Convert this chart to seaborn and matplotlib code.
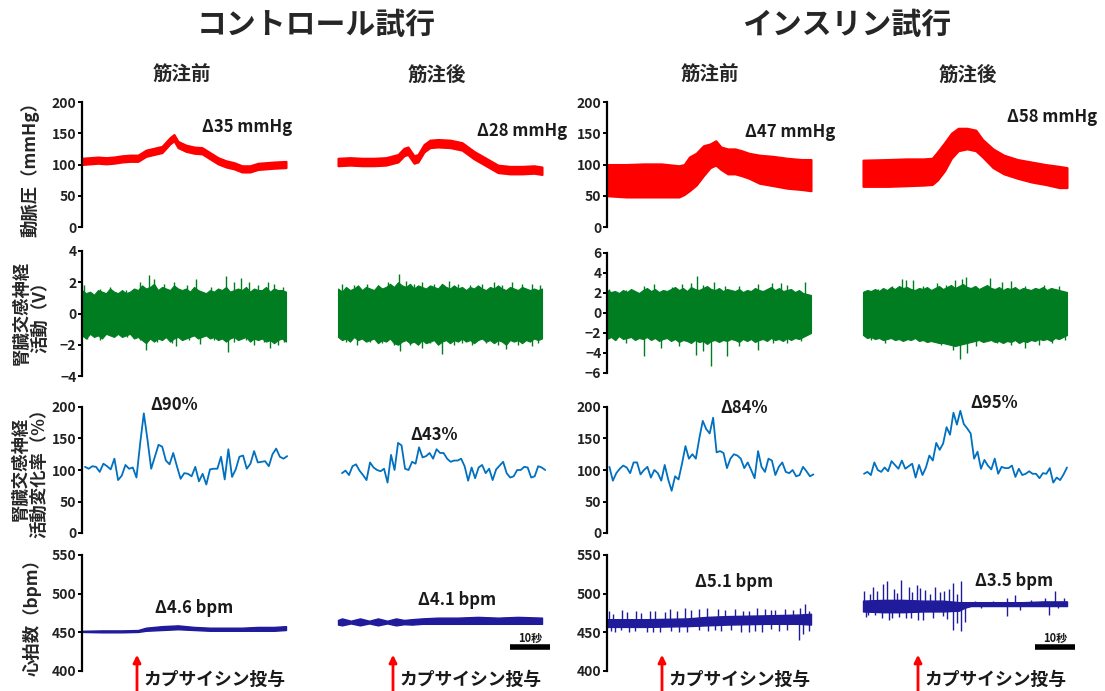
import numpy as np
import pandas as pd
import matplotlib
matplotlib.use("Agg")
import matplotlib.pyplot as plt
import seaborn as sns

# ---------------------------------------------------------------- text
GROUP_TITLES = ["コントロール試行", "インスリン試行"]
PHASE_TITLES = ["筋注前", "筋注後"]
ROW_LABELS = ["動脈圧（mmHg）", "腎臓交感神経\n活動（V）",
              "腎臓交感神経\n活動変化率（%）", "心拍数（bpm）"]
BP_DELTAS = ["Δ35 mmHg", "Δ28 mmHg", "Δ47 mmHg", "Δ58 mmHg"]
RSNA_DELTAS = ["Δ90%", "Δ43%", "Δ84%", "Δ95%"]
HR_DELTAS = ["Δ4.6 bpm", "Δ4.1 bpm", "Δ5.1 bpm", "Δ3.5 bpm"]
INJECTION_LABEL = "カプサイシン投与"
SCALE_LABEL = "10秒"

# ---------------------------------------------------------------- ticks
BP_TICKS = [0, 50, 100, 150, 200]
SNA_TICKS_CTRL = [-4, -2, 0, 2, 4]
SNA_TICKS_INS = [-6, -4, -2, 0, 2, 4, 6]
RSNA_TICKS = [0, 50, 100, 150, 200]
HR_TICKS = [400, 450, 500, 550]

TRACE_LEN = 51.0        # seconds per trace
INJECTION_T = 13.75     # s after trace start
SCALE_T = (107, 117)    # 10 s scale bar

# ---------------------------------------------------------------- arterial pressure (envelopes)
bp_ctrl_pre_t = [0, 2, 4, 6, 8, 10, 12, 14, 16, 18, 20, 22, 23, 24, 26, 28, 30, 32, 34, 36, 38, 40, 42, 44, 46, 48, 51]
bp_ctrl_pre_hi = [110, 111, 112, 111, 112, 114, 115, 115, 123, 126, 129, 143, 148, 137, 131, 128, 127, 119, 111, 106, 103, 98, 98, 102, 103, 104, 105]
bp_ctrl_pre_lo = [100, 101, 102, 101, 102, 104, 105, 105, 113, 116, 119, 133, 138, 127, 121, 118, 117, 109, 101, 96, 93, 88, 88, 92, 93, 94, 95]

bp_ctrl_post_t = [0, 3, 6, 9, 12, 15, 16.5, 17.5, 19, 20, 21.5, 23, 25, 28, 31, 34, 37, 40, 43, 46, 49, 51]
bp_ctrl_post_hi = [110, 111, 110, 110, 111, 116, 126, 128, 114, 116, 132, 139, 140, 139, 135, 121, 110, 99, 97, 97, 98, 96]
bp_ctrl_post_lo = [98, 99, 98, 98, 99, 104, 114, 116, 102, 104, 120, 127, 128, 127, 123, 109, 98, 87, 85, 85, 86, 84]

bp_ins_pre_t = [0, 4.8, 9.2, 13.6, 18, 19.3, 20.6, 22.3, 24.1, 25.8, 27.2, 28.5, 30.2, 32, 33.7, 35.5, 38.1, 41.6, 45.1, 48.6, 51]
bp_ins_pre_hi = [100, 100, 101, 101, 98, 100, 112, 118, 130, 133, 138, 128, 125, 125, 122, 118, 115, 113, 110, 108, 108]
bp_ins_pre_lo = [50, 48, 48, 48, 48, 52, 58, 67, 82, 95, 99, 92, 85, 85, 82, 78, 70, 66, 62, 60, 58]

bp_ins_post_t = [0, 6.4, 10.8, 15.1, 17.3, 18.6, 20.4, 22.1, 23.8, 26, 28.2, 29.9, 32.5, 35.2, 38.6, 42.1, 45.6, 49.1, 51]
bp_ins_post_hi = [107, 108, 109, 109, 110, 120, 135, 150, 158, 158, 155, 140, 125, 115, 108, 104, 100, 97, 95]
bp_ins_post_lo = [65, 65, 66, 67, 68, 75, 90, 110, 122, 125, 122, 112, 95, 85, 78, 72, 68, 63, 63]

# ---------------------------------------------------------------- renal SNA (envelope, 1 value / s, + large spikes)
sna_ctrl_pre_hi = [1.5, 1.3, 1.4, 1.2, 1.5, 1.4, 1.3, 1.6, 1.4, 1.3, 1.5, 1.3, 1.4, 1.6, 1.5, 1.8, 1.6, 1.7, 1.9, 1.5,
                   1.7, 1.6, 1.5, 1.8, 1.6, 1.5, 1.6, 1.4, 1.7, 1.5, 1.4, 1.3, 1.5, 1.4, 1.6, 1.5, 1.7, 1.4, 1.5, 1.6,
                   1.5, 1.7, 1.4, 1.6, 1.5, 1.5, 1.7, 1.4, 1.6, 1.5, 1.5, 1.4]
sna_ctrl_pre_lo = [-1.4, -1.6, -1.3, -1.5, -1.4, -1.6, -1.3, -1.4, -1.5, -1.3, -1.5, -1.4, -1.3, -1.6, -1.5, -1.7, -1.9, -1.6, -1.8, -1.6,
                   -1.7, -1.5, -1.8, -1.6, -1.5, -1.7, -1.6, -1.5, -1.4, -1.6, -1.5, -1.4, -1.6, -1.5, -1.7, -1.6, -1.8, -1.6, -1.5, -1.7,
                   -1.6, -1.5, -1.8, -1.6, -1.7, -1.6, -1.8, -1.7, -1.9, -1.7, -1.6, -1.8]
sna_ctrl_post_hi = [1.6, 1.4, 1.7, 1.5, 1.6, 1.8, 1.5, 1.7, 1.6, 1.5, 1.8, 1.6, 1.7, 1.9, 1.7, 2.0, 1.8, 1.7, 1.9, 1.6,
                    1.8, 1.7, 1.6, 1.8, 1.7, 1.6, 1.9, 1.7, 1.6, 1.8, 1.6, 1.7, 1.5, 1.7, 1.6, 1.8, 1.6, 1.5, 1.7, 1.6,
                    1.8, 1.6, 1.5, 1.7, 1.6, 1.5, 1.7, 1.6, 1.5, 1.6, 1.5, 1.6]
sna_ctrl_post_lo = [-1.5, -1.7, -1.6, -1.8, -1.5, -1.7, -1.6, -1.8, -1.7, -1.6, -1.9, -1.7, -1.8, -1.6, -1.9, -2.0, -1.8, -1.7, -1.9, -1.8,
                    -2.0, -1.7, -1.9, -1.8, -1.7, -2.0, -1.8, -1.7, -1.9, -1.7, -1.8, -1.6, -1.8, -1.7, -1.9, -1.7, -1.6, -1.8, -1.7, -1.9,
                    -1.7, -1.8, -2.0, -1.7, -1.8, -1.7, -1.9, -1.7, -1.8, -1.6, -1.7, -1.6]
sna_ins_pre_hi = [2.3, 2.1, 2.2, 2.0, 2.3, 2.1, 2.4, 2.2, 2.0, 2.3, 2.5, 2.2, 2.4, 2.1, 2.3, 2.2, 2.4, 2.6, 2.3, 2.5,
                  2.2, 2.6, 2.4, 2.3, 2.5, 2.7, 2.4, 2.3, 2.5, 2.2, 2.4, 2.3, 2.2, 2.4, 2.1, 2.3, 2.2, 2.5, 2.3, 2.2,
                  2.4, 2.6, 2.3, 2.5, 2.2, 2.3, 2.4, 2.1, 2.3, 2.0, 1.9, 1.8]
sna_ins_pre_lo = [-2.6, -2.4, -2.7, -2.3, -2.6, -2.5, -2.4, -2.7, -2.5, -2.6, -2.4, -2.7, -2.5, -2.8, -2.6, -2.5, -2.8, -2.6, -2.9, -2.7,
                  -2.8, -3.0, -2.7, -2.9, -2.8, -3.1, -2.8, -2.7, -2.9, -2.7, -2.8, -2.6, -2.7, -2.9, -2.6, -2.8, -2.6, -2.9, -2.7, -2.6,
                  -2.8, -2.5, -2.7, -2.6, -2.8, -2.5, -2.7, -2.5, -2.6, -2.4, -2.2, -2.0]
sna_ins_post_hi = [2.1, 2.3, 2.2, 2.4, 2.2, 2.5, 2.3, 2.6, 2.4, 2.7, 2.5, 2.6, 2.4, 2.3, 2.5, 2.4, 2.6, 2.3, 2.5, 2.7,
                   2.4, 2.6, 2.8, 2.5, 2.7, 2.9, 2.6, 2.5, 2.7, 2.4, 2.6, 2.8, 2.5, 2.4, 2.6, 2.3, 2.5, 2.4, 2.6, 2.3,
                   2.5, 2.4, 2.3, 2.5, 2.4, 2.6, 2.3, 2.5, 2.4, 2.3, 2.2, 2.1]
sna_ins_post_lo = [-2.2, -2.5, -2.4, -2.6, -2.5, -2.7, -2.6, -2.5, -2.7, -2.6, -2.8, -2.6, -2.7, -2.5, -2.8, -2.7, -2.9, -2.8, -2.9, -3.0,
                   -3.0, -3.1, -3.2, -3.3, -3.2, -3.1, -3.0, -2.9, -2.8, -2.7, -2.9, -2.8, -2.7, -2.9, -2.8, -3.0, -2.8, -2.9, -2.7, -3.0,
                   -2.8, -2.9, -2.7, -2.8, -2.6, -2.7, -2.6, -2.8, -2.5, -2.6, -2.4, -2.2]

sna_ctrl_pre_spk_t = [0.6, 4.6, 7.1, 10.9, 14.6, 16.7, 18, 20.5, 23, 26.3, 28.4, 32.2, 35.9, 38, 39.7, 41.8, 43.9, 46.4, 48.1, 50.2,
                      1.3, 4.6, 11.3, 14.6, 15.9, 18.8, 22.6, 23.4, 26.8, 29.5, 33, 36.6, 38, 41, 43, 45.6, 47.1, 48.9, 50.6]
sna_ctrl_pre_spk_v = [1.8, 1.6, 1.7, 1.5, 2.0, 2.45, 2.2, 1.9, 2.0, 1.8, 2.2, 1.7, 2.4, 2.0, 2.3, 2.0, 1.8, 2.0, 1.9, 1.7,
                      -1.6, -1.7, -1.5, -1.7, -2.35, -1.8, -1.9, -2.1, -1.7, -1.95, -1.7, -2.45, -1.8, -1.7, -2.0, -1.8, -2.2, -2.0, -1.8]
sna_ctrl_post_spk_t = [1, 4, 7.2, 10, 12.5, 15.2, 17, 19, 21, 24, 27.7, 30, 33, 36, 39, 41, 43.5, 46, 48.5, 50.5,
                       2, 4.8, 8, 11, 14, 15.5, 18, 21, 23, 26, 29, 31, 33.5, 37, 40, 42, 45, 48.5, 50]
sna_ctrl_post_spk_v = [1.9, 1.8, 1.9, 1.8, 2.0, 2.55, 2.1, 1.9, 2.0, 1.9, 2.1, 1.9, 1.8, 1.9, 2.0, 1.8, 2.0, 1.9, 1.9, 1.8,
                       -1.8, -2.0, -1.8, -1.9, -2.0, -2.4, -2.0, -2.2, -1.9, -2.6, -2.0, -1.9, -2.0, -1.9, -2.0, -2.3, -2.0, -2.1, -1.9]
sna_ins_pre_spk_t = [0.4, 4.8, 9.2, 11.8, 16.2, 18.8, 21, 22.5, 24.1, 26.7, 29.4, 32.9, 37.7, 41.2, 43.4, 45.1, 49.5,
                     2.2, 4.8, 9.2, 13.6, 18, 22.3, 24.1, 25.9, 30, 32.9, 37.7, 41.6, 45.1, 48.6]
sna_ins_pre_spk_v = [2.4, 2.3, 2.7, 2.9, 2.6, 2.9, 3.0, 3.7, 2.8, 3.1, 2.7, 2.7, 2.9, 3.0, 3.0, 2.8, 3.1,
                     -2.7, -3.0, -4.3, -3.5, -3.3, -4.2, -3.8, -5.3, -4.3, -3.3, -3.7, -3.0, -3.0, -2.8]
sna_ins_post_spk_t = [0.3, 3.8, 7.3, 9.7, 10.8, 12.5, 15.1, 18.6, 20.8, 23, 24.7, 25.8, 28.2, 31.7, 34.7, 36.9, 40.4, 45.2, 49.1,
                      2.1, 5.6, 10.8, 16, 19.5, 22.5, 24.3, 26, 28.2, 33.4, 37, 40.4, 43.9, 47.3, 50.4]
sna_ins_post_spk_v = [2.2, 2.4, 2.7, 3.4, 3.3, 3.3, 2.7, 3.0, 2.8, 3.3, 3.4, 3.6, 2.7, 3.5, 3.1, 3.2, 2.7, 2.8, 2.7,
                      -2.7, -3.0, -2.7, -2.8, -3.2, -3.7, -4.6, -4.0, -3.3, -3.0, -3.2, -3.5, -3.2, -3.0, -2.7]

# ---------------------------------------------------------------- RSNA % change
rsna_ctrl_pre = [105, 102, 106, 105, 97, 110, 106, 101, 118, 84, 91, 108, 102, 104, 88, 142, 190, 148, 102, 121,
                 140, 137, 115, 109, 127, 106, 86, 95, 94, 90, 105, 82, 94, 77, 101, 102, 102, 121, 85, 133,
                 89, 101, 121, 123, 102, 110, 130, 112, 113, 114, 106, 125, 134, 121, 118, 122]
rsna_ctrl_post = [95, 99, 92, 106, 109, 99, 92, 84, 112, 104, 100, 98, 102, 80, 124, 100, 143, 139, 102, 100,
                  113, 110, 136, 120, 122, 127, 118, 133, 127, 127, 118, 113, 115, 115, 118, 106, 83, 104, 87, 104,
                  108, 95, 102, 84, 101, 107, 113, 95, 88, 90, 100, 100, 105, 104, 88, 90, 106, 104, 100]
rsna_ins_pre = [105, 83, 95, 102, 107, 104, 95, 112, 112, 93, 100, 105, 88, 100, 95, 83, 108, 85, 67, 90,
                85, 110, 138, 118, 125, 118, 150, 178, 165, 158, 183, 128, 130, 127, 103, 118, 125, 123, 118, 103,
                112, 100, 87, 130, 105, 97, 118, 115, 92, 105, 112, 97, 95, 100, 90, 92, 105, 98, 90, 93]
rsna_ins_post = [94, 97, 92, 112, 100, 97, 104, 98, 114, 108, 102, 115, 102, 106, 110, 88, 108, 92, 104, 123,
                 115, 143, 132, 142, 168, 156, 191, 172, 194, 173, 166, 158, 118, 129, 102, 116, 107, 101, 118, 94,
                 105, 103, 103, 107, 89, 102, 92, 94, 98, 94, 94, 87, 95, 94, 103, 80, 88, 84, 93, 104]
rsna_spans = [(0.75, 51.3), (1.0, 51.8), (0.6, 51.6), (0.25, 51.0)]

# ---------------------------------------------------------------- heart rate (core band + spikes)
hr_ctrl_pre_t = [0, 5, 10, 14, 16, 20, 24, 28, 32, 36, 40, 44, 48, 51]
hr_ctrl_pre_lo = [450.5, 450, 450, 450.5, 452, 453, 454, 453, 452, 452, 452, 452, 452, 453]
hr_ctrl_pre_hi = [452, 452.5, 452.5, 453, 456, 458, 459, 457, 456, 456, 456, 457, 457, 458]
hr_ctrl_post_t = [0, 1, 3.2, 5.5, 7.8, 10, 12.3, 14.5, 16.5, 18.5, 21, 25, 30, 35, 40, 45, 51]
hr_ctrl_post_lo = [460, 459, 461.5, 459, 461.5, 459, 461.5, 459, 460.5, 460, 461, 461, 461, 461, 461, 461, 461]
hr_ctrl_post_hi = [466, 468, 465, 468, 465, 468, 465, 468, 466, 467, 468, 469, 469, 470, 469, 470, 469]
hr_ins_pre_t = [0, 10, 20, 25, 30, 40, 48, 51]
hr_ins_pre_lo = [457, 457, 458, 459, 460, 461, 461, 460]
hr_ins_pre_hi = [467, 467, 468, 470, 471, 472, 473, 474]
hr_ins_post_t = [0, 5, 10, 15, 20, 24, 25.5, 27, 30, 35, 40, 45, 51]
hr_ins_post_lo = [477, 476, 476, 477, 477, 478, 482, 484, 484, 484, 484, 484, 484]
hr_ins_post_hi = [491, 492, 492, 491, 491, 489, 489, 489, 489, 489, 489, 490, 490]

hr_ins_pre_spk_t = [0.5, 3.8, 7.2, 10.7, 15.8, 19.6, 23, 27.8, 32, 35.4, 39.6, 42.1, 46.4, 48.3, 49.4,
                    2.1, 5.6, 9.9, 13.3, 20.1, 25.2, 28.6, 35.4, 38.8, 43, 47.9, 48.9,
                    1.5, 5, 8.5, 12, 14.5, 17.5, 21, 25, 29.5, 34, 37.5, 41, 44.5, 50.5,
                    1, 3.5, 7, 11.5, 16, 18, 23, 27, 31, 33.5, 37, 41, 45, 50.5]
hr_ins_pre_spk_v = [478, 479, 478, 477, 480, 482, 480, 480, 480, 478, 480, 479, 479, 482, 486,
                    451, 450, 451, 451, 450, 452, 452, 451, 451, 452, 440, 448,
                    474, 476, 475, 477, 476, 478, 479, 481, 479, 478, 481, 479, 480, 478,
                    452, 453, 452, 450, 452, 451, 453, 453, 453, 451, 452, 454, 453, 452]
hr_ins_post_spk_t = [0.3, 2.5, 5.1, 6, 7.7, 9.4, 11.6, 13.4, 15.5, 18.1, 20.3, 22.5, 24.6,
                     1.2, 4.7, 7.3, 10.8, 15.1, 19.9, 22.5, 24.6, 25.5,
                     1.8, 3.4, 8.5, 12.3, 14.2, 16.8, 19.2, 21.5, 23.5,
                     0.8, 3.0, 6.5, 9.0, 12.0, 13.8, 17.5, 21.0, 23.4,
                     28.1, 32.4, 35.9, 37.9, 42, 45.5, 47.9, 50.2,
                     29.4, 35.9, 39.3, 46.6, 48.8]
hr_ins_post_spk_v = [504, 509, 513, 516, 506, 518, 509, 511, 505, 508, 504, 514, 516,
                     472, 468, 469, 468, 466, 471, 453, 452, 464,
                     500, 503, 501, 502, 507, 500, 502, 506, 500,
                     470, 472, 466, 470, 469, 466, 468, 467, 462,
                     491, 491, 495, 498, 492, 494, 503, 495,
                     481, 471, 479, 472, 481]

# ---------------------------------------------------------------- style
RED = "#FF0000"
GREEN = "#007D20"
BLUE = "#0070C0"
NAVY = "#1F1B9A"
W, H = 1105, 691

sns.set_theme(style="white")
plt.rcParams["font.family"] = ["Noto Sans CJK JP", "DejaVu Sans"]
plt.rcParams["font.weight"] = "bold"
plt.rcParams["axes.labelweight"] = "bold"

fig = plt.figure(figsize=(W / 100, H / 100), dpi=100)

XMAX = 118.0
POST_OFF = 64.0
GROUP_LEFT = [82, 607]
ROW_PX = [[(102, 227), (251, 376), (407, 533), (555, 671)],
          [(102, 227), (253, 373), (407, 533), (555, 671)]]
YLIMS = [[(0, 200), (-4, 4), (0, 200), (400, 550)],
         [(0, 200), (-6, 6), (0, 200), (400, 550)]]
YTICKS = [[BP_TICKS, SNA_TICKS_CTRL, RSNA_TICKS, HR_TICKS],
          [BP_TICKS, SNA_TICKS_INS, RSNA_TICKS, HR_TICKS]]

axes = [[None] * 4 for _ in range(2)]
for g in range(2):
    for r in range(4):
        top, bot = ROW_PX[g][r]
        ax = fig.add_axes([GROUP_LEFT[g] / W, 1 - bot / H, XMAX * 4 / W, (bot - top) / H])
        ax.set_xlim(0, XMAX)
        ax.set_ylim(*YLIMS[g][r])
        ax.set_yticks(YTICKS[g][r])
        ax.set_xticks([])
        for s in ["top", "right", "bottom"]:
            ax.spines[s].set_visible(False)
        ax.spines["left"].set_linewidth(1.6)
        ax.spines["left"].set_color("black")
        ax.tick_params(axis="y", direction="out", length=3, width=1.4, color="black",
                       labelsize=10, labelcolor="#222222", pad=1, left=True)
        ax.patch.set_alpha(0)
        axes[g][r] = ax


def band(ax, t, lo, hi, color, off, lw=1.0):
    t = np.asarray(t, float) + off
    ax.fill_between(t, lo, hi, color=color, linewidth=lw, edgecolor=color, clip_on=False)


# arterial pressure
bp_sets = [[(bp_ctrl_pre_t, bp_ctrl_pre_lo, bp_ctrl_pre_hi), (bp_ctrl_post_t, bp_ctrl_post_lo, bp_ctrl_post_hi)],
           [(bp_ins_pre_t, bp_ins_pre_lo, bp_ins_pre_hi), (bp_ins_post_t, bp_ins_post_lo, bp_ins_post_hi)]]
for g in range(2):
    for p in range(2):
        t, lo, hi = bp_sets[g][p]
        band(axes[g][0], t, lo, hi, RED, p * POST_OFF, lw=1.5)

# renal SNA
sna_sets = [[(sna_ctrl_pre_lo, sna_ctrl_pre_hi, sna_ctrl_pre_spk_t, sna_ctrl_pre_spk_v),
             (sna_ctrl_post_lo, sna_ctrl_post_hi, sna_ctrl_post_spk_t, sna_ctrl_post_spk_v)],
            [(sna_ins_pre_lo, sna_ins_pre_hi, sna_ins_pre_spk_t, sna_ins_pre_spk_v),
             (sna_ins_post_lo, sna_ins_post_hi, sna_ins_post_spk_t, sna_ins_post_spk_v)]]
for g in range(2):
    for p in range(2):
        lo, hi, st, sv = sna_sets[g][p]
        ax = axes[g][1]
        off = p * POST_OFF
        th = np.linspace(0, TRACE_LEN, len(hi)) + off
        tl = np.linspace(0, TRACE_LEN, len(lo)) + off
        ax.fill_between(th, 0, hi, color=GREEN, linewidth=0.8, edgecolor=GREEN)
        ax.fill_between(tl, lo, 0, color=GREEN, linewidth=0.8, edgecolor=GREEN)
        ax.vlines(np.asarray(st) + off, 0, sv, color=GREEN, lw=1.0)

# RSNA % change (seaborn line plots)
rsna_vals = [[rsna_ctrl_pre, rsna_ctrl_post], [rsna_ins_pre, rsna_ins_post]]
for g in range(2):
    for p in range(2):
        vals = rsna_vals[g][p]
        t0, t1 = rsna_spans[2 * g + p]
        df = pd.DataFrame({"t": np.linspace(t0, t1, len(vals)) + p * POST_OFF, "v": vals})
        sns.lineplot(data=df, x="t", y="v", ax=axes[g][2], color=BLUE, lw=1.3,
                     estimator=None, sort=False)
        axes[g][2].set_xlabel("")
        axes[g][2].set_ylabel("")

# heart rate
hr_sets = [[(hr_ctrl_pre_t, hr_ctrl_pre_lo, hr_ctrl_pre_hi, [], []),
            (hr_ctrl_post_t, hr_ctrl_post_lo, hr_ctrl_post_hi, [], [])],
           [(hr_ins_pre_t, hr_ins_pre_lo, hr_ins_pre_hi, hr_ins_pre_spk_t, hr_ins_pre_spk_v),
            (hr_ins_post_t, hr_ins_post_lo, hr_ins_post_hi, hr_ins_post_spk_t, hr_ins_post_spk_v)]]
for g in range(2):
    for p in range(2):
        t, lo, hi, st, sv = hr_sets[g][p]
        ax = axes[g][3]
        band(ax, t, lo, hi, NAVY, p * POST_OFF, lw=1.0)
        if len(st):
            mid = np.interp(st, t, (np.asarray(lo) + np.asarray(hi)) / 2)
            ax.vlines(np.asarray(st) + p * POST_OFF, mid, sv, color=NAVY, lw=1.0)

# injection arrows, labels, scale bars
for g in range(2):
    ax = axes[g][3]
    for p in range(2):
        x = INJECTION_T + p * POST_OFF
        ax.annotate("", xy=(x, 421), xytext=(x, 372), xycoords="data",
                    arrowprops=dict(arrowstyle="-|>", color=RED, lw=2, mutation_scale=11,
                                    shrinkA=0, shrinkB=0),
                    annotation_clip=False)
        ax.text(x + 1.5, 388, INJECTION_LABEL, fontsize=12.8, fontweight="bold",
                ha="left", va="center", color="#1a1a1a", clip_on=False)
    ax.plot(SCALE_T, [430.5, 430.5], color="black", lw=4, solid_capstyle="butt", clip_on=False)
    ax.text(sum(SCALE_T) / 2, 433.5, SCALE_LABEL, fontsize=8, fontweight="bold",
            ha="center", va="bottom", color="#1a1a1a")


def ftext(x, y, s, **kw):
    fig.text(x / W, 1 - y / H, s, **kw)


# titles
ftext(316, 25, GROUP_TITLES[0], fontsize=21.5, fontweight="bold", ha="center", va="center")
ftext(847, 25, GROUP_TITLES[1], fontsize=21.5, fontweight="bold", ha="center", va="center")
for x, s in zip([182, 437, 710, 968], PHASE_TITLES * 2):
    ftext(x, 75, s, fontsize=14, fontweight="bold", ha="center", va="center")

# row labels
for (x, y), s in zip([(30, 165), (31, 313), (30, 469), (32, 613)], ROW_LABELS):
    ftext(x, y, s, fontsize=12.5, fontweight="bold", rotation=90, ha="center",
          va="center", multialignment="center", linespacing=1.1)

# delta annotations
delta_pos = [(202, 127), (477, 131), (745, 132), (1007, 117)]
for (x, y), s in zip(delta_pos, BP_DELTAS):
    ftext(x, y, s, fontsize=12, fontweight="bold", ha="left", va="center", color="#1a1a1a")
rsna_pos = [(150, 405), (410, 435), (720, 408), (970, 403)]
for (x, y), s in zip(rsna_pos, RSNA_DELTAS):
    ftext(x, y, s, fontsize=12, fontweight="bold", ha="left", va="center", color="#1a1a1a")
hr_pos = [(155, 608), (418, 600), (695, 582), (975, 581)]
for (x, y), s in zip(hr_pos, HR_DELTAS):
    ftext(x, y, s, fontsize=12, fontweight="bold", ha="left", va="center", color="#1a1a1a")

fig.savefig("out.png", dpi=100, facecolor="white")
